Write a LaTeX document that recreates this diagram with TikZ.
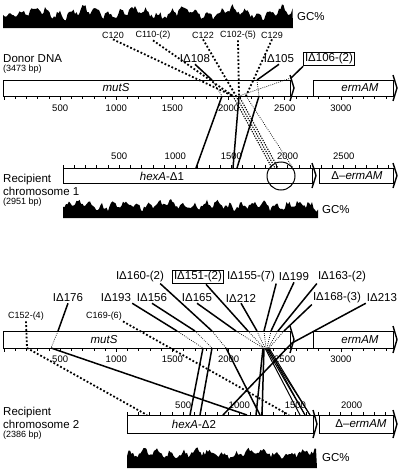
\documentclass[tikz,border=0pt]{standalone}
\usepackage{fontspec}
\setmainfont{Liberation Sans}
\usetikzlibrary{positioning}

\begin{document}
\begin{tikzpicture}[x=1pt, y=-1pt,
    lbl/.style={font=\fontsize{11.5}{12}\selectfont, inner sep=1pt},
    small/.style={font=\fontsize{9}{10}\selectfont, inner sep=1pt},
    num/.style={font=\fontsize{9.5}{10}\selectfont, inner sep=0pt},
    boxed/.style={lbl, draw, line width=0.9pt, inner sep=1.5pt},
    bar/.style={draw, fill=white, line width=1pt},
    bartip/.style={line width=1.4pt},
    tick/.style={line width=0.6pt},
    solidlink/.style={line width=1.5pt},
    dotlink/.style={line width=1.8pt, dash pattern=on 1.8pt off 2pt},
    thindot/.style={line width=1.1pt, dash pattern=on 1.2pt off 1.3pt},
    inbar/.style={line width=0.7pt, dash pattern=on 0.8pt off 1.3pt}]
\useasboundingbox (0,0) rectangle (400,471);
\pgfmathsetseed{7}

% GC profiles
\fill (3,28) \foreach \i in {3,4.5,...,293} {-- (\i,{10+3*sin(\i*29)+3*sin(\i*7.3)+5*rnd})} -- (293,28) -- cycle;
\fill (63,218) \foreach \i in {63,64.5,...,318} {-- (\i,{203+2.5*sin(\i*31)+2*sin(\i*8.1)+5*rnd})} -- (318,218) -- cycle;
\fill (127,468) \foreach \i in {127,128.5,...,317} {-- (\i,{451+2.5*sin(\i*27)+2*sin(\i*6.7)+5*rnd})} -- (317,468) -- cycle;
\node[lbl, anchor=west] (gc0) at (296,17) {GC\%};
\node[lbl, anchor=west] (gc1) at (321,210) {GC\%};
\node[lbl, anchor=west] (gc2) at (321,458) {GC\%};

% side texts
\node[lbl, anchor=west] (donor) at (2,59) {Donor DNA};
\node[small, below=0pt of donor.south west, anchor=north west] (donorbp) {(3473 bp)};
\node[lbl, anchor=west] (rec1) at (2,180) {Recipient};
\node[lbl, below=-1pt of rec1.south west, anchor=north west] (chr1) {chromosome 1};
\node[small, below=0pt of chr1.south west, anchor=north west] (bp1) {(2951 bp)};
\node[lbl, anchor=west] (rec2) at (2,413) {Recipient};
\node[lbl, below=-1pt of rec2.south west, anchor=north west] (chr2) {chromosome 2};
\node[small, below=0pt of chr2.south west, anchor=north west] (bp2) {(2386 bp)};

% donor DNA, panel 1
\draw[bar] (3,80) rectangle (290,96);
\draw[bar] (313,80) rectangle (393,96);
\draw[bartip] (290,75) .. controls (292,82) .. (294,88) .. controls (292,94) .. (290,101);
\draw[bartip] (393,75) .. controls (395,82) .. (397,88) .. controls (395,94) .. (393,101);
\draw[tick] (4,96) -- (394,96);
\foreach \k in {0,...,34} \draw[tick] ({4+11.23*\k},96) -- ++(0,2.5);
\foreach \k in {0,5,...,30} \draw[tick] ({4+11.23*\k},96) -- ++(0,4);
\foreach \v in {500,1000,...,3000} \node[num] (da\v) at ({4+0.1123*\v},108) {\v};
\node[lbl] (muts1) at (116,88) {\textit{mutS}};
\node[lbl] (erm1) at (360,88) {\textit{ermAM}};

% recipient chromosome 1
\draw[bar] (63,168) rectangle (312,183);
\draw[bar] (319,168) rectangle (393,183);
\draw[bartip] (312,163) .. controls (314,169) .. (316,175.5) .. controls (314,182) .. (312,188);
\draw[bartip] (393,163) .. controls (395,169) .. (397,175.5) .. controls (395,182) .. (393,188);
\draw[tick] (63,168) -- (394,168);
\foreach \k in {0,...,29} \draw[tick] ({63+11.23*\k},168) -- ++(0,-3);
\foreach \v in {500,1000,...,2500} \node[num] (ra\v) at ({63+0.1123*\v},156) {\v};
\node[lbl] (hexa1) at (162,176) {\textit{hexA}-Δ1};
\node[lbl] (derm1) at (357,176) {Δ--\textit{ermAM}};
\node[circle, draw, line width=1pt, minimum size=28pt] (hot1) at (281,176) {};

% labels, panel 1
\node[small] (c120) at (113,35) {C120};
\node[small] (c110) at (153,35) {C110-(2)};
\node[small] (c122) at (203,35) {C122};
\node[small] (c102) at (238,35) {C102-(5)};
\node[small] (c129) at (272,35) {C129};
\node[lbl] (i108) at (195,59) {IΔ108};
\node[lbl] (i105) at (279,59) {IΔ105};
\node[boxed] (i106) at (329,59) {IΔ106-(2)};

\coordinate (t108) at (212,80);  \coordinate (b108) at (222,96);  \coordinate (r108) at (196,168);
\coordinate (t105) at (257,80);  \coordinate (b105) at (259,96);  \coordinate (r105) at (237,168);
\coordinate (t106) at (291,78);  \coordinate (b106) at (239,96);  \coordinate (r106) at (233,168);
\coordinate (ba1) at (233,96);   \coordinate (ra1) at (272,168);
\coordinate (ba2) at (236,96);   \coordinate (ra2) at (275,168);
\coordinate (ba3) at (239,96);   \coordinate (ra3) at (278,168);
\coordinate (ba4) at (246,96);   \coordinate (ra4) at (293,168);

\draw[dotlink] (c120.south) -- (ba1);
\draw[dotlink] (c110.south) -- (ba1);
\draw[dotlink] (c122.south) -- (ba2);
\draw[dotlink] (c102.south) -- (ba3);
\draw[dotlink] (c129.south) -- (ba4);
\draw[solidlink] (i108.south) -- (t108);
\draw[inbar] (t108) -- (b108);
\draw[solidlink] (b108) -- (r108);
\draw[solidlink] (i105.south) -- (t105);
\draw[inbar] (t105) -- (b105);
\draw[solidlink] (b105) -- (r105);
\draw[solidlink] (i106.south west) -- (t106);
\draw[inbar] (t106) -- (b106);
\draw[solidlink] (b106) -- (r106);
\draw[thindot] (ba1) -- (ra1);
\draw[thindot] (ba2) -- (ra2);
\draw[thindot] (ba3) -- (ra3);
\draw[inbar] (ba4) -- (ra4);

% donor DNA, panel 2
\draw[bar] (3,331) rectangle (290,348);
\draw[bar] (313,331) rectangle (393,348);
\draw[bartip] (290,326) .. controls (292,333) .. (294,339.5) .. controls (292,346) .. (290,353);
\draw[bartip] (393,326) .. controls (395,333) .. (397,339.5) .. controls (395,346) .. (393,353);
\draw[tick] (4,348) -- (394,348);
\foreach \k in {0,...,34} \draw[tick] ({4+11.23*\k},348) -- ++(0,2.5);
\foreach \k in {0,5,...,30} \draw[tick] ({4+11.23*\k},348) -- ++(0,4);
\foreach \v in {500,1000,...,3000} \node[num] (db\v) at ({4+0.1123*\v},359) {\v};
\node[lbl] (muts2) at (104,340) {\textit{mutS}};
\node[lbl] (erm2) at (360,340) {\textit{ermAM}};

% recipient chromosome 2
\draw[bar] (127,415) rectangle (313,433);
\draw[bar] (319,415) rectangle (393,433);
\draw[bartip] (313,410) .. controls (315,417) .. (317,424) .. controls (315,431) .. (313,438);
\draw[bartip] (393,410) .. controls (395,417) .. (397,424) .. controls (395,431) .. (393,438);
\draw[tick] (127,415) -- (394,415);
\foreach \k in {0,...,23} \draw[tick] ({127+11.23*\k},415) -- ++(0,-3);
\foreach \v in {500,1000,...,2000} \node[num] (rb\v) at ({127+0.1123*\v},405) {\v};
\node[lbl] (hexa2) at (194,424) {\textit{hexA}-Δ2};
\node[lbl] (derm2) at (361,424) {Δ--\textit{ermAM}};

% labels, panel 2
\node[lbl] (i160) at (140,277) {IΔ160-(2)};
\node[boxed] (i151) at (198,277) {IΔ151-(2)};
\node[lbl] (i155) at (251,277) {IΔ155-(7)};
\node[lbl] (i199) at (294,277) {IΔ199};
\node[lbl] (i163) at (342,277) {IΔ163-(2)};
\node[lbl] (i176) at (68,298) {IΔ176};
\node[lbl] (i193) at (116,298) {IΔ193};
\node[lbl] (i156) at (152,298) {IΔ156};
\node[lbl] (i165) at (197,298) {IΔ165};
\node[lbl] (i212) at (241,298) {IΔ212};
\node[lbl] (i168) at (337,298) {IΔ168-(3)};
\node[lbl] (i213) at (382,298) {IΔ213};
\node[small] (c152) at (26,316) {C152-(4)};
\node[small] (c169) at (104,316) {C169-(6)};

\coordinate (b152) at (27,348);  \coordinate (r152) at (147,415);
\coordinate (r169) at (289,415);
\coordinate (t176) at (58,331);  \coordinate (b176) at (51,348);  \coordinate (r176) at (247,415);
\coordinate (t193) at (177,331); \coordinate (b193) at (203,348); \coordinate (r193) at (190,415);
\coordinate (t156) at (195,331); \coordinate (b156) at (212,348); \coordinate (r156) at (200,415);
\coordinate (t160) at (212,331); \coordinate (b160) at (226,348); \coordinate (r160) at (260,415);
\coordinate (t165) at (236,331); \coordinate (b165) at (263,348); \coordinate (r165) at (256,415);
\coordinate (t151) at (248,331); \coordinate (b151) at (264,348); \coordinate (r151) at (262,415);
\coordinate (t212) at (257,331); \coordinate (b212) at (265,348); \coordinate (r212) at (300,415);
\coordinate (t155) at (264,331); \coordinate (b155) at (266,348); \coordinate (r155) at (305,415);
\coordinate (t199) at (271,331); \coordinate (b199) at (267,348); \coordinate (r199) at (310,415);
\coordinate (t163) at (278,331); \coordinate (b163) at (268,348); \coordinate (r163) at (305,415);
\coordinate (t168) at (284,331); \coordinate (b168) at (269,348); \coordinate (r168) at (310,415);
\coordinate (t213) at (292,343); \coordinate (r213) at (223,415);

\draw[dotlink] (c152.south) -- (b152) -- (r152);
\draw[dotlink] (c169.south east) -- (r169);
\draw[solidlink] (i176.south) -- (t176);
\draw[inbar] (t176) -- (b176);
\draw[solidlink] (b176) -- (r176);
\draw[solidlink] (i193.south east) -- (t193);
\draw[inbar] (t193) -- (b193);
\draw[solidlink] (b193) -- (r193);
\draw[solidlink] (i156.south) -- (t156);
\draw[inbar] (t156) -- (b156);
\draw[solidlink] (b156) -- (r156);
\draw[solidlink] ([xshift=-5pt]i160.south east) -- (t160);
\draw[inbar] (t160) -- (b160);
\draw[solidlink] (b160) -- (r160);
\draw[solidlink] (i165.south) -- (t165);
\draw[inbar] (t165) -- (b165);
\draw[solidlink] (b165) -- (r165);
\draw[solidlink] ([xshift=8pt]i151.south) -- (t151);
\draw[inbar] (t151) -- (b151);
\draw[solidlink] (b151) -- (r151);
\draw[solidlink] (i212.south) -- (t212);
\draw[inbar] (t212) -- (b212);
\draw[line width=1pt] (b212) -- (r212);
\draw[solidlink] (i155.south east) -- (t155);
\draw[inbar] (t155) -- (b155);
\draw[line width=1pt] (b155) -- (r155);
\draw[solidlink] (i199.south) -- (t199);
\draw[inbar] (t199) -- (b199);
\draw[line width=1pt] (b199) -- (r199);
\draw[solidlink] (i163.south west) -- (t163);
\draw[inbar] (t163) -- (b163);
\draw[line width=1pt] (b163) -- (r163);
\draw[solidlink] (i168.south west) -- (t168);
\draw[inbar] (t168) -- (b168);
\draw[line width=1pt] (b168) -- (r168);
\draw[solidlink] (i213.south west) -- (t213) -- (r213);
\end{tikzpicture}
\end{document}
